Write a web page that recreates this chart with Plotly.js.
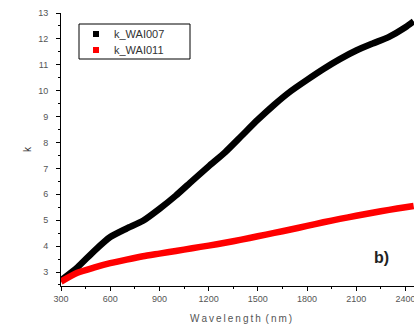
<!DOCTYPE html>
<html>
<head>
<meta charset="utf-8">
<script src="https://cdn.plot.ly/plotly-3.0.1.min.js"></script>
<style>html,body{margin:0;padding:0;background:#fff;overflow:hidden;}#chart{width:414px;height:325px;}</style>
</head>
<body>
<div id="chart"></div>
<script>
const wavelength = [300,400,500,600,700,800,900,1000,1100,1200,1300,1400,1500,1600,1700,1800,1900,2000,2100,2200,2300,2400,2450];
const k_WAI007 = [2.68,3.18,3.80,4.35,4.68,4.98,5.44,5.95,6.52,7.08,7.62,8.25,8.88,9.46,9.98,10.42,10.84,11.22,11.55,11.82,12.08,12.45,12.68];
const k_WAI011 = [2.63,2.97,3.17,3.34,3.48,3.61,3.71,3.81,3.92,4.02,4.13,4.25,4.38,4.51,4.64,4.78,4.92,5.05,5.17,5.29,5.40,5.50,5.55];
const seriesNames = ['k_WAI007','k_WAI011'];
const seriesColors = ['#000000','#ff0000'];
const xTicks = [300,600,900,1200,1500,1800,2100,2400];
const yTicks = [3,4,5,6,7,8,9,10,11,12,13];

const seriesData = [k_WAI007, k_WAI011];
const traces = seriesData.map((ys, i) => ({x: wavelength, y: ys, mode: 'lines', type: 'scatter', name: seriesNames[i],
  line: {color: seriesColors[i], width: 6.5, shape: 'spline', smoothing: 0.6}, showlegend: false, hoverinfo: 'skip'}));

// plot area in pixels: left 61, right 414, top 13, bottom 286
const px = v => (v - 61) / 353;
const py = v => (286 - v) / 273;
const font = 'Liberation Sans, Arial, sans-serif';
const tickFont = {family: font, size: 9, color: '#555'};

const shapes = [{type: 'rect', xref: 'paper', yref: 'paper', x0: px(79), x1: px(190), y0: py(59), y1: py(24),
  line: {color: '#000', width: 1}, fillcolor: 'rgba(0,0,0,0)'}];
const annotations = [];
seriesNames.forEach((nm, i) => {
  const cy = 34 + 16 * i;
  shapes.push({type: 'rect', xref: 'paper', yref: 'paper', x0: px(93), x1: px(99), y0: py(cy + 3), y1: py(cy - 3),
    line: {width: 0}, fillcolor: seriesColors[i]});
  annotations.push({text: nm, xref: 'paper', yref: 'paper', x: px(112), y: py(cy), xanchor: 'left', yanchor: 'middle',
    showarrow: false, font: {family: font, size: 11, color: '#333'}});
});
annotations.push({text: '<b>b)</b>', xref: 'paper', yref: 'paper', x: px(381), y: py(257), xanchor: 'center', yanchor: 'middle',
  showarrow: false, font: {family: font, size: 16, color: '#222'}});
annotations.push({text: 'W\u2009a\u2009v\u2009e\u2009l\u2009e\u2009n\u2009g\u2009t\u2009h\u2009 (\u2009n\u2009m\u2009)', xref: 'paper', yref: 'paper',
  x: px(241), y: py(318), xanchor: 'center', yanchor: 'middle', showarrow: false, font: {family: font, size: 10, color: '#555'}});

const layout = {
  width: 414, height: 325,
  margin: {l: 61, r: 0, t: 13, b: 39},
  paper_bgcolor: '#fff', plot_bgcolor: '#fff',
  showlegend: false,
  xaxis: {range: [300, 2452], tickvals: xTicks, ticks: 'outside', ticklen: 4, tickcolor: '#000',
    showline: true, linecolor: '#000', linewidth: 1, showgrid: false, zeroline: false, ticklabeloverflow: 'allow',
    tickfont: tickFont, minor: {dtick: 150, tick0: 150, ticks: 'outside', ticklen: 2, tickcolor: '#000', showgrid: false}},
  yaxis: {range: [2.46, 13], tickvals: yTicks, ticks: 'outside', ticklen: 4, tickcolor: '#000', ticklabelstandoff: 6,
    showline: true, linecolor: '#000', linewidth: 1, showgrid: false, zeroline: false,
    tickfont: tickFont, minor: {dtick: 0.5, tick0: 2.5, ticks: 'outside', ticklen: 2, tickcolor: '#000', showgrid: false},
    title: {text: 'k', font: {family: font, size: 10, color: '#333'}, standoff: 4}},
  shapes: shapes,
  annotations: annotations
};
Plotly.newPlot('chart', traces, layout, {displayModeBar: false, staticPlot: true});
</script>
</body>
</html>
